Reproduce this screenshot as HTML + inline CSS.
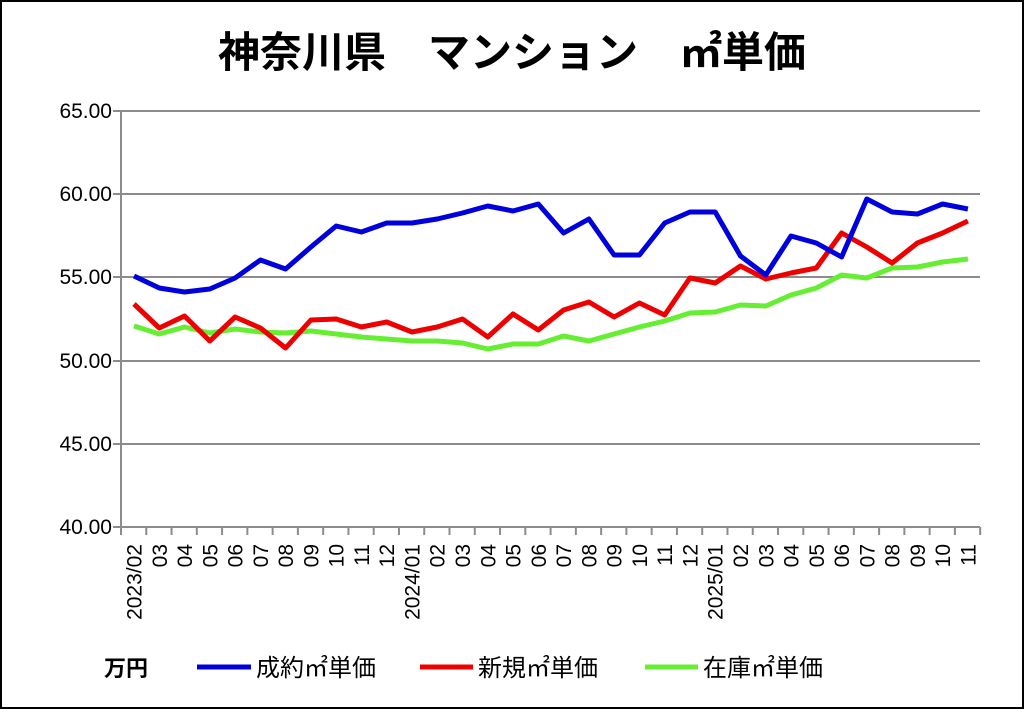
<!DOCTYPE html>
<html><head><meta charset="utf-8"><style>
html,body{margin:0;padding:0;background:#fff}
svg{display:block}
text{font-family:"Liberation Sans","Noto Sans CJK JP",sans-serif}
</style></head><body>
<svg width="1024" height="709" viewBox="0 0 1024 709" xmlns="http://www.w3.org/2000/svg">
<rect x="1" y="1" width="1022" height="707" fill="#fff" stroke="#000" stroke-width="2"/>
<text x="512" y="67" text-anchor="middle" font-size="42" font-weight="bold" fill="#000" style="font-family:'Noto Sans CJK JP',sans-serif">神奈川県　マンション　㎡単価</text>
<g stroke="#8c8c8c" stroke-width="2">
<line x1="113" y1="111" x2="980" y2="111"/>
<line x1="113" y1="194" x2="980" y2="194"/>
<line x1="113" y1="277" x2="980" y2="277"/>
<line x1="113" y1="361" x2="980" y2="361"/>
<line x1="113" y1="444" x2="980" y2="444"/>
<line x1="113" y1="527" x2="980" y2="527"/>
<line x1="121" y1="111" x2="121" y2="535"/>
</g>
<g id="ticks" stroke="#8c8c8c" stroke-width="2"></g>
<g font-size="21" fill="#000" text-anchor="end">
<text x="112" y="118">65.00</text>
<text x="112" y="201">60.00</text>
<text x="112" y="284">55.00</text>
<text x="112" y="368">50.00</text>
<text x="112" y="451">45.00</text>
<text x="112" y="534">40.00</text>
</g>
<g id="xl" font-size="21" fill="#000" text-anchor="end"></g>
<polyline id="g" fill="none" stroke="#66ee33" stroke-width="5" stroke-linejoin="round"/>
<polyline id="r" fill="none" stroke="#ee0000" stroke-width="5" stroke-linejoin="round"/>
<polyline id="b" fill="none" stroke="#0000dd" stroke-width="5" stroke-linejoin="round"/>
<text x="104" y="676" font-size="22" font-weight="bold" fill="#000">万円</text>
<line x1="197" y1="667" x2="251" y2="667" stroke="#0000dd" stroke-width="5"/>
<text x="256" y="676" font-size="24" fill="#000">成約㎡単価</text>
<line x1="420" y1="667" x2="473" y2="667" stroke="#ee0000" stroke-width="5"/>
<text x="478" y="676" font-size="24" fill="#000">新規㎡単価</text>
<line x1="645" y1="667" x2="698" y2="667" stroke="#66ee33" stroke-width="5"/>
<text x="703" y="676" font-size="24" fill="#000">在庫㎡単価</text>
</svg>
<script>
var B=[276,288,292,289,278,260,269,247,226,232,223,223,219,213,206,211,204,233,219,255,255,223,212,212,256,275,236,243,257,199,212,214,204,209];
var R=[304,328,316,341,317,328,348,320,319,327,322,332,327,319,337,314,330,310,302,317,303,315,278,283,266,279,273,268,233,247,263,243,233,221];
var G=[326,334,327,333,329,332,333,331,334,337,339,341,341,343,349,344,344,336,341,334,327,321,313,312,305,306,295,288,275,278,268,267,262,259];
function pts(a){return a.map(function(y,i){return (134+25.27*i).toFixed(1)+","+y}).join(" ")}
document.getElementById("b").setAttribute("points",pts(B));
document.getElementById("r").setAttribute("points",pts(R));
document.getElementById("g").setAttribute("points",pts(G));
var ns="http://www.w3.org/2000/svg",t=document.getElementById("ticks"),xl=document.getElementById("xl");
for(var k=0;k<=34;k++){var l=document.createElementNS(ns,"line");var x=121+25.27*k;l.setAttribute("x1",x);l.setAttribute("x2",x);l.setAttribute("y1",527);l.setAttribute("y2",535);t.appendChild(l);}
var labs=["2023/02","03","04","05","06","07","08","09","10","11","12","2024/01","02","03","04","05","06","07","08","09","10","11","12","2025/01","02","03","04","05","06","07","08","09","10","11"];
labs.forEach(function(s,i){var e=document.createElementNS(ns,"text");var x=134+25.27*i+7.5;e.setAttribute("transform","translate("+x+",544) rotate(-90)");e.textContent=s;xl.appendChild(e);});
</script>
</body></html>
